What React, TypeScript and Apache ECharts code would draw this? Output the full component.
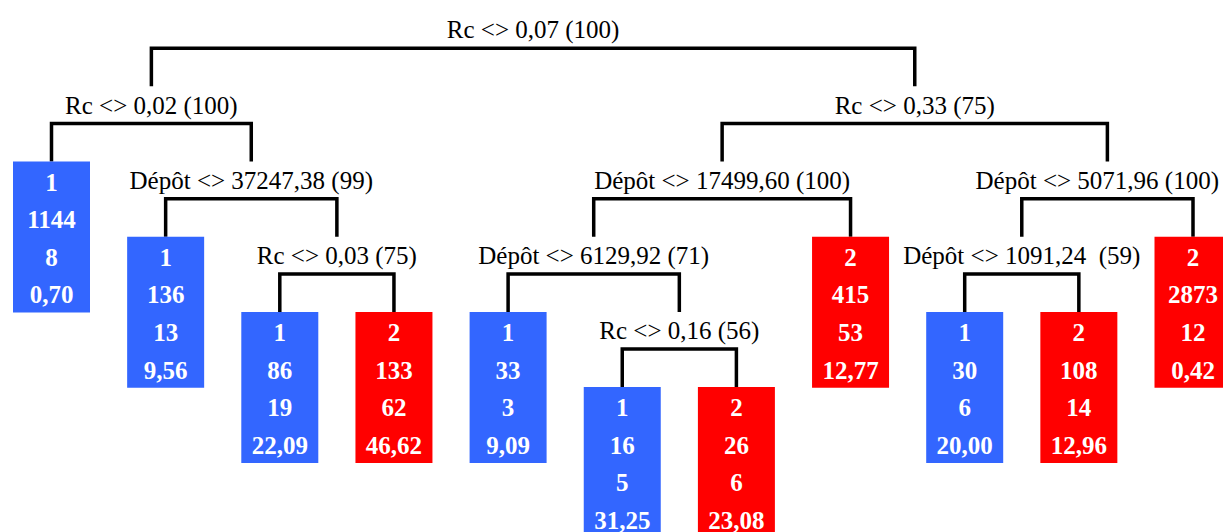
import { useEffect, useRef } from "react";
import * as echarts from "echarts";

// Split nodes (internal nodes of the decision tree)
const splitLabels = [
  "Rc <> 0,07 (100)", // S0
  "Rc <> 0,02 (100)", // S1
  "Dépôt <> 37247,38 (99)", // S2
  "Rc <> 0,03 (75)", // S3
  "Rc <> 0,33 (75)", // S4
  "Dépôt <> 17499,60 (100)", // S5
  "Dépôt <> 6129,92 (71)", // S6
  "Rc <> 0,16 (56)", // S7
  "Dépôt <> 5071,96 (100)", // S8
  "Dépôt <> 1091,24  (59)", // S9
];
const splitChildren: [string, string][] = [
  ["S1", "S4"],
  ["L0", "S2"],
  ["L1", "S3"],
  ["L2", "L3"],
  ["S5", "S8"],
  ["S6", "L7"],
  ["L4", "S7"],
  ["L5", "L6"],
  ["S9", "L10"],
  ["L8", "L9"],
];

// Leaves (left to right)
const leafClass = [1, 1, 1, 2, 1, 1, 2, 2, 1, 2, 2];
const leafCount = [1144, 136, 86, 133, 33, 16, 26, 415, 30, 108, 2873];
const leafErrors = [8, 13, 19, 62, 3, 5, 6, 53, 6, 14, 12];
const leafErrorRate = [0.7, 9.56, 22.09, 46.62, 9.09, 31.25, 23.08, 12.77, 20.0, 12.96, 0.42];

const classColors: Record<number, string> = { 1: "#3366FF", 2: "#FF0000" };
const FONT = '"Liberation Serif", "Times New Roman", serif';
const DROP = 38;
const BOX_W = 77;
const BOX_H = 151;
const CANVAS_W = 1223;

type SplitPos = { x: number; depth: number; lx: number; rx: number };
type LeafPos = { x: number; depth: number };

function buildLayout() {
  const splitPos: SplitPos[] = [];
  const leafPos: LeafPos[] = [];
  const walk = (id: string, depth: number): number => {
    const idx = Number(id.slice(1));
    if (id[0] === "L") {
      leafPos[idx] = { x: idx, depth };
      return idx;
    }
    const [a, b] = splitChildren[idx];
    const xa = walk(a, depth + 1);
    const xb = walk(b, depth + 1);
    const x = (xa + xb) / 2;
    splitPos[idx] = { x, depth, lx: xa, rx: xb };
    return x;
  };
  walk("S0", 0);
  return { splitPos, leafPos };
}

const fmt = (v: number) => v.toFixed(2).replace(".", ",");

export default function App() {
  const ref = useRef<HTMLDivElement>(null);
  useEffect(() => {
    if (!ref.current) return;
    const chart = echarts.init(ref.current, null, { renderer: "svg" });
    const { splitPos, leafPos } = buildLayout();

    chart.setOption({
      animation: false,
      backgroundColor: "#ffffff",
      grid: { left: 51.5, right: 30, top: 48.3, bottom: 32.5 },
      xAxis: { type: "value", min: 0, max: 10, show: false },
      yAxis: { type: "value", min: 0, max: 6, inverse: true, show: false },
      series: [
        {
          type: "custom",
          name: "splits",
          clip: false,
          data: splitPos.map((p, i) => [p.x, p.depth, p.lx, p.rx, i]),
          renderItem: (_params: any, api: any) => {
            const x = api.value(0);
            const d = api.value(1);
            const lx = api.value(2);
            const rx = api.value(3);
            const i = api.value(4);
            const p = api.coord([x, d]);
            const pl = api.coord([lx, d]);
            const pr = api.coord([rx, d]);
            const label = splitLabels[i];
            const font = `25px ${FONT}`;
            const half = echarts.format.getTextRect
              ? (echarts.format as any).getTextRect(label, font).width / 2
              : 0;
            const tx = Math.min(p[0], CANVAS_W - 4 - half);
            return {
              type: "group",
              children: [
                {
                  type: "polyline",
                  shape: {
                    points: [
                      [pl[0], p[1] + DROP],
                      [pl[0], p[1]],
                      [pr[0], p[1]],
                      [pr[0], p[1] + DROP],
                    ],
                  },
                  style: { stroke: "#000000", lineWidth: 3.5, fill: "none", lineJoin: "miter" },
                },
                {
                  type: "text",
                  x: tx,
                  y: p[1] - 18.5,
                  style: {
                    text: label,
                    fill: "#000000",
                    font,
                    align: "center",
                    verticalAlign: "middle",
                  },
                },
              ],
            };
          },
        },
        {
          type: "custom",
          name: "leaves",
          clip: false,
          data: leafPos.map((p, i) => [p.x, p.depth - 1, i]),
          renderItem: (_params: any, api: any) => {
            const x = api.value(0);
            const d = api.value(1);
            const i = api.value(2);
            const c = api.coord([x, d]);
            const top = c[1] + DROP;
            const rows = [
              String(leafClass[i]),
              String(leafCount[i]),
              String(leafErrors[i]),
              fmt(leafErrorRate[i]),
            ];
            return {
              type: "group",
              children: [
                {
                  type: "rect",
                  shape: { x: c[0] - BOX_W / 2, y: top, width: BOX_W, height: BOX_H },
                  style: { fill: classColors[leafClass[i]] },
                },
                ...rows.map((t, k) => ({
                  type: "text",
                  x: c[0],
                  y: top + 20.5 + 37.6 * k,
                  style: {
                    text: t,
                    fill: "#ffffff",
                    font: `bold 25px ${FONT}`,
                    align: "center",
                    verticalAlign: "middle",
                  },
                })),
              ],
            };
          },
        },
      ],
    });
    return () => chart.dispose();
  }, []);
  return (
    <div
      ref={ref}
      style={{ position: "absolute", left: 0, top: 0, width: 1223, height: 532 }}
    />
  );
}
